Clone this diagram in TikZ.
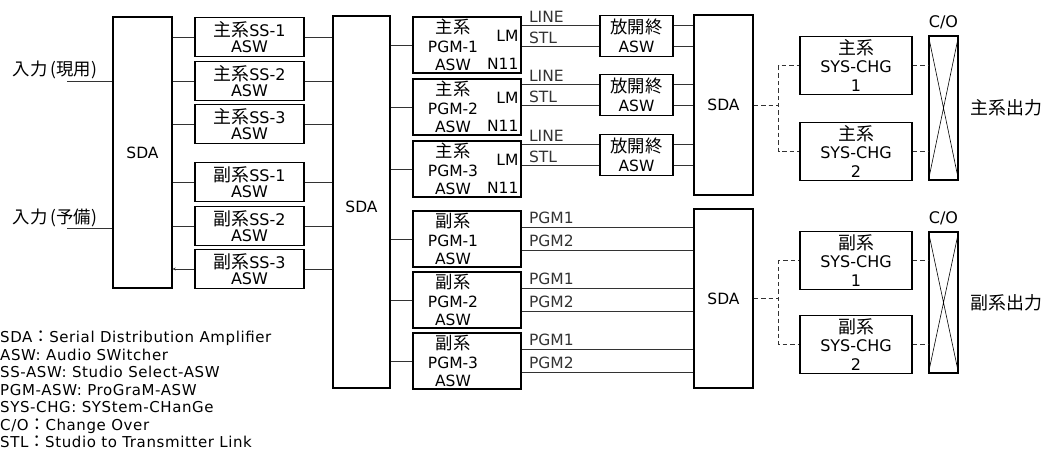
\documentclass[tikz,border=0pt]{standalone}
\usepackage{fontspec}
\setmainfont{DejaVu Sans}
\newfontfamily\jpfont[Scale=1.12]{Noto Sans CJK JP}
\newcommand{\jp}[1]{{\jpfont #1}}
\usetikzlibrary{arrows.meta,positioning,calc}

\begin{document}
\begin{tikzpicture}[x=1pt, y=-1pt,
  box/.style={draw, line width=1.3pt, inner sep=0pt, align=center, font=\fontsize{16}{16.5}\selectfont},
  sdabox/.style={box, minimum width=59pt, font=\fontsize{15.5}{16}\selectfont},
  ssbox/.style={box, minimum width=109pt, minimum height=39pt},
  pgmbox/.style={box, minimum width=108pt, minimum height=56pt},
  hobox/.style={box, minimum width=73pt, minimum height=41pt, font=\fontsize{15.5}{19}\selectfont},
  chgbox/.style={box, minimum width=112pt, minimum height=58pt, font=\fontsize{16}{18.5}\selectfont},
  cobox/.style={box, minimum width=29pt},
  txt/.style={inner sep=0pt, align=center, font=\fontsize{15.5}{18.5}\selectfont},
  lbl/.style={pos=0, anchor=base west, xshift=7pt, yshift=3.5pt, inner sep=0pt, font=\fontsize{15.5}{15.5}\selectfont},
  wire/.style={line width=0.9pt, black!80},
  dwire/.style={wire, dash pattern=on 4.5pt off 3pt}]
\useasboundingbox (0,0) rectangle (1046,466);

% inputs and first SDA
\node[sdabox, minimum height=271pt] (sdaA) at (142.5,152.5) {SDA};
\node[txt, font=\fontsize{15.5}{15.5}\selectfont] (inMain) at (55,70) {\jp{入力\,(現用)}};
\node[txt, font=\fontsize{15.5}{15.5}\selectfont] (inSub) at (55,218) {\jp{入力\,(予備)}};
\coordinate (inMainEnd) at (67,81);
\coordinate (inSubEnd) at (67,228);
\draw[wire] (inMainEnd) -- (inMainEnd -| sdaA.west);
\draw[wire] (inSubEnd) -- (inSubEnd -| sdaA.west);

% studio select switchers
\node[ssbox] (ssM1) at (249.5,37) {\jp{主系}SS-1\\ASW};
\node[ssbox] (ssM2) at (249.5,81) {\jp{主系}SS-2\\ASW};
\node[ssbox] (ssM3) at (249.5,124) {\jp{主系}SS-3\\ASW};
\node[ssbox] (ssS1) at (249.5,182) {\jp{副系}SS-1\\ASW};
\node[ssbox] (ssS2) at (249.5,226) {\jp{副系}SS-2\\ASW};
\node[ssbox] (ssS3) at (249.5,269) {\jp{副系}SS-3\\ASW};

\node[sdabox, minimum width=57pt, minimum height=372pt] (sdaB) at (361.5,202) {};
\node[txt] (sdaBt) at ([yshift=-5pt]sdaB.center) {SDA};

\draw[wire] (sdaA.east |- ssM1) -- (ssM1) -- (ssM1 -| sdaB.west);
\draw[wire] (sdaA.east |- ssM2) -- (ssM2) -- (ssM2 -| sdaB.west);
\draw[wire] (sdaA.east |- ssM3) -- (ssM3) -- (ssM3 -| sdaB.west);
\draw[wire] (sdaA.east |- ssS1) -- (ssS1) -- (ssS1 -| sdaB.west);
\draw[wire] (sdaA.east |- ssS2) -- (ssS2) -- (ssS2 -| sdaB.west);
\draw[wire, {Stealth[length=3pt, width=3pt]}-] (sdaA.east |- ssS3) -- (ssS3);
\draw[wire] (ssS3) -- (ssS3 -| sdaB.west);

% program switchers
\node[pgmbox] (pgmM1) at (467,45) {};
\node[txt] (pgmM1t) at ([xshift=-14pt]pgmM1.center) {\jp{主系}\\PGM-1\\ASW};
\node[txt, anchor=east] (pgmM1lm) at ([xshift=-3pt, yshift=-19pt]pgmM1.north east) {LM};
\node[txt, anchor=east] (pgmM1n) at ([xshift=-3pt, yshift=-47pt]pgmM1.north east) {N11};
\node[pgmbox] (pgmM2) at (467,107) {};
\node[txt] (pgmM2t) at ([xshift=-14pt]pgmM2.center) {\jp{主系}\\PGM-2\\ASW};
\node[txt, anchor=east] (pgmM2lm) at ([xshift=-3pt, yshift=-19pt]pgmM2.north east) {LM};
\node[txt, anchor=east] (pgmM2n) at ([xshift=-3pt, yshift=-47pt]pgmM2.north east) {N11};
\node[pgmbox] (pgmM3) at (467,169) {};
\node[txt] (pgmM3t) at ([xshift=-14pt]pgmM3.center) {\jp{主系}\\PGM-3\\ASW};
\node[txt, anchor=east] (pgmM3lm) at ([xshift=-3pt, yshift=-19pt]pgmM3.north east) {LM};
\node[txt, anchor=east] (pgmM3n) at ([xshift=-3pt, yshift=-47pt]pgmM3.north east) {N11};
\node[pgmbox] (pgmS1) at (467,239) {};
\node[txt] (pgmS1t) at ([xshift=-14pt]pgmS1.center) {\jp{副系}\\PGM-1\\ASW};
\node[pgmbox] (pgmS2) at (467,300) {};
\node[txt] (pgmS2t) at ([xshift=-14pt]pgmS2.center) {\jp{副系}\\PGM-2\\ASW};
\node[pgmbox] (pgmS3) at (467,361) {};
\node[txt] (pgmS3t) at ([xshift=-14pt]pgmS3.center) {\jp{副系}\\PGM-3\\ASW};

\draw[wire] (sdaB.east |- pgmM1) -- (pgmM1);
\draw[wire] (sdaB.east |- pgmM2) -- (pgmM2);
\draw[wire] (sdaB.east |- pgmM3) -- (pgmM3);
\draw[wire] (sdaB.east |- pgmS1) -- (pgmS1);
\draw[wire] (sdaB.east |- pgmS2) -- (pgmS2);
\draw[wire] (sdaB.east |- pgmS3) -- (pgmS3);

% main line: LINE / STL through the switchers
\node[hobox] (hoM1) at (636.5,36) {\jp{放開終}\\ASW};
\node[hobox] (hoM2) at (636.5,95) {\jp{放開終}\\ASW};
\node[hobox] (hoM3) at (636.5,155) {\jp{放開終}\\ASW};
\node[sdabox, minimum height=180pt] (sdaC) at (723.5,105) {SDA};

\coordinate (lineM1) at ($(hoM1.west)+(0,-10.5)$);
\coordinate (stlM1) at ($(hoM1.west)+(0,10.5)$);
\coordinate (lineM2) at ($(hoM2.west)+(0,-10.5)$);
\coordinate (stlM2) at ($(hoM2.west)+(0,10.5)$);
\coordinate (lineM3) at ($(hoM3.west)+(0,-10.5)$);
\coordinate (stlM3) at ($(hoM3.west)+(0,10.5)$);
\draw[wire] (pgmM1.east |- lineM1) -- node[lbl] (tLineM1) {LINE} (lineM1);
\draw[wire] (pgmM1.east |- stlM1) -- node[lbl] (tStlM1) {STL} (stlM1);
\draw[wire] (pgmM2.east |- lineM2) -- node[lbl] (tLineM2) {LINE} (lineM2);
\draw[wire] (pgmM2.east |- stlM2) -- node[lbl] (tStlM2) {STL} (stlM2);
\draw[wire] (pgmM3.east |- lineM3) -- node[lbl] (tLineM3) {LINE} (lineM3);
\draw[wire] (pgmM3.east |- stlM3) -- node[lbl] (tStlM3) {STL} (stlM3);
\draw[wire] (hoM1.east |- lineM1) -- (sdaC.west |- lineM1);
\draw[wire] (hoM1.east |- stlM1) -- (sdaC.west |- stlM1);
\draw[wire] (hoM2.east |- lineM2) -- (sdaC.west |- lineM2);
\draw[wire] (hoM2.east |- stlM2) -- (sdaC.west |- stlM2);
\draw[wire] (hoM3.east |- lineM3) -- (sdaC.west |- lineM3);
\draw[wire] (hoM3.east |- stlM3) -- (sdaC.west |- stlM3);

% sub line: PGM1 / PGM2
\node[sdabox, minimum height=179pt] (sdaD) at (723.5,298.5) {SDA};
\draw[wire] ($(pgmS1.east)+(0,-12)$) -- node[lbl] (tP1S1) {PGM1} ($(pgmS1.east -| sdaD.west)+(0,-12)$);
\draw[wire] ($(pgmS1.east)+(0,11)$) -- node[lbl] (tP2S1) {PGM2} ($(pgmS1.east -| sdaD.west)+(0,11)$);
\draw[wire] ($(pgmS2.east)+(0,-12)$) -- node[lbl] (tP1S2) {PGM1} ($(pgmS2.east -| sdaD.west)+(0,-12)$);
\draw[wire] ($(pgmS2.east)+(0,11)$) -- node[lbl] (tP2S2) {PGM2} ($(pgmS2.east -| sdaD.west)+(0,11)$);
\draw[wire] ($(pgmS3.east)+(0,-12)$) -- node[lbl] (tP1S3) {PGM1} ($(pgmS3.east -| sdaD.west)+(0,-12)$);
\draw[wire] ($(pgmS3.east)+(0,11)$) -- node[lbl] (tP2S3) {PGM2} ($(pgmS3.east -| sdaD.west)+(0,11)$);

% system change and change over
\node[chgbox] (scM1) at (856,65.5) {\jp{主系}\\SYS-CHG\\1};
\node[chgbox] (scM2) at (856,151.5) {\jp{主系}\\SYS-CHG\\2};
\node[chgbox] (scS1) at (856,260.5) {\jp{副系}\\SYS-CHG\\1};
\node[chgbox] (scS2) at (856,344.5) {\jp{副系}\\SYS-CHG\\2};
\node[cobox, minimum height=144pt] (coM) at (943.5,108) {};
\node[cobox, minimum height=141pt] (coS) at (943.5,302.5) {};
\draw[line width=0.6pt] (coM.north west) -- (coM.south east) (coM.north east) -- (coM.south west);
\draw[line width=0.6pt] (coS.north west) -- (coS.south east) (coS.north east) -- (coS.south west);
\node[txt, above=6pt of coM, font=\fontsize{16}{16}\selectfont] (coMt) {C/O};
\node[txt, above=6pt of coS, font=\fontsize{16}{16}\selectfont] (coSt) {C/O};
\node[txt, right=12pt of coM, font=\fontsize{16}{16}\selectfont] (outM) {\jp{主系出力}};
\node[txt, right=12pt of coS, font=\fontsize{16}{16}\selectfont] (outS) {\jp{副系出力}};

\draw[dwire] (sdaC.east) -- ++(25,0) |- (scM1);
\draw[dwire] (sdaC.east) -- ++(25,0) |- (scM2);
\draw[dwire] (sdaD.east) -- ++(25,0) |- (scS1);
\draw[dwire] (sdaD.east) -- ++(25,0) |- (scS2);
\draw[dwire] (scM1) -- (scM1 -| coM.west);
\draw[dwire] (scM2) -- (scM2 -| coM.west);
\draw[dwire] (scS1) -- (scS1 -| coS.west);
\draw[dwire] (scS2) -- (scS2 -| coS.west);

% abbreviations
\node[anchor=north west, align=left, inner sep=0pt, font=\fontsize{15}{17.5}\selectfont\addfontfeatures{LetterSpace=4}] (legend) at (0,331)
  {SDA\jp{：}Serial Distribution Amplifier\\ASW: Audio SWitcher\\SS-ASW: Studio Select-ASW\\PGM-ASW: ProGraM-ASW\\SYS-CHG: SYStem-CHanGe\\C/O\jp{：}Change Over\\STL\jp{：}Studio to Transmitter Link};
\end{tikzpicture}
\end{document}
